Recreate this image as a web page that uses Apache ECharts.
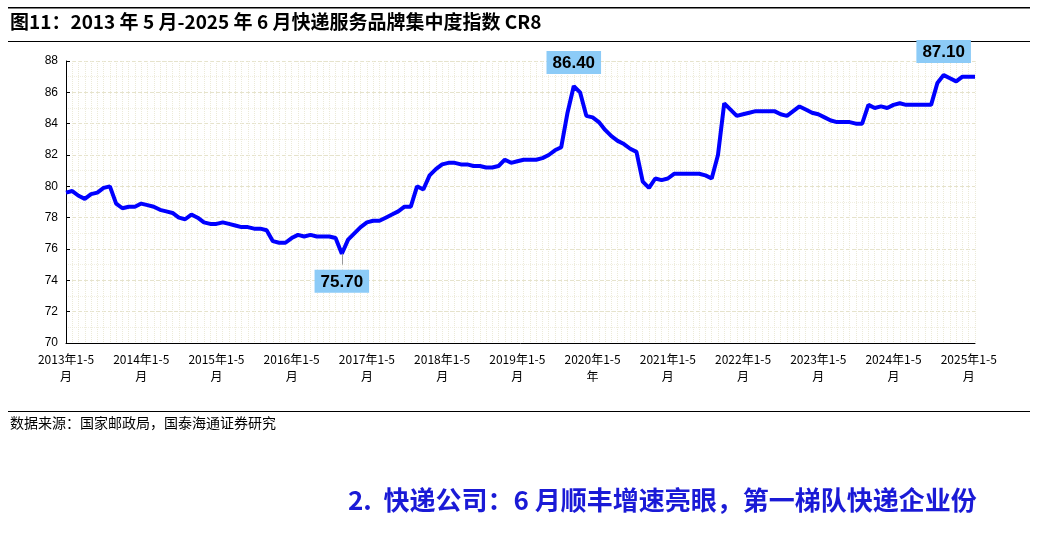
<!DOCTYPE html>
<html lang="zh">
<head>
  <meta charset="UTF-8">
  <title>CR8</title>
  <script src="https://cdn.jsdelivr.net/npm/echarts@6.0.0/dist/echarts.min.js"></script>
  <style>
    body { margin: 0; background: #fff; }
    #chart { width: 1037px; height: 534px; }
  </style>
</head>
<body>
  <div id="chart"></div>
  <script>
    // 月度 CR8 数据（2013-05 至 2025-06）
    var startYear = 2013, startMonth = 5;
    var values = [
      79.6, 79.7, 79.4, 79.2, 79.5, 79.6, 79.9, 80.0, 78.9, 78.6, 78.7, 78.7,
      78.9, 78.8, 78.7, 78.5, 78.4, 78.3, 78.0, 77.9, 78.2, 78.0, 77.7, 77.6,
      77.6, 77.7, 77.6, 77.5, 77.4, 77.4, 77.3, 77.3, 77.2, 76.5, 76.4, 76.4,
      76.7, 76.9, 76.8, 76.9, 76.8, 76.8, 76.8, 76.7, 75.7, 76.6, 77.0, 77.4,
      77.7, 77.8, 77.8, 78.0, 78.2, 78.4, 78.7, 78.7, 80.0, 79.8, 80.7, 81.1,
      81.4, 81.5, 81.5, 81.4, 81.4, 81.3, 81.3, 81.2, 81.2, 81.3, 81.7, 81.5,
      81.6, 81.7, 81.7, 81.7, 81.8, 82.0, 82.3, 82.5, 84.7, 86.4, 86.0, 84.5,
      84.4, 84.1, 83.6, 83.2, 82.9, 82.7, 82.4, 82.2, 80.3, 79.9, 80.5, 80.4,
      80.5, 80.8, 80.8, 80.8, 80.8, 80.8, 80.7, 80.5, 82.0, 85.3, 84.9, 84.5,
      84.6, 84.7, 84.8, 84.8, 84.8, 84.8, 84.6, 84.5, 84.8, 85.1, 84.9, 84.7,
      84.6, 84.4, 84.2, 84.1, 84.1, 84.1, 84.0, 84.0, 85.2, 85.0, 85.1, 85.0,
      85.2, 85.3, 85.2, 85.2, 85.2, 85.2, 85.2, 86.6, 87.1, 86.9, 86.7, 87.0,
      87.0, 87.0
    ];
    var categories = values.map(function (v, i) {
      var m = startMonth - 1 + i;
      return (startYear + Math.floor(m / 12)) + '年1-' + (m % 12 + 1) + '月';
    });
    var highlights = [
      { idx: 44, text: '75.70', pos: 'bottom' },
      { idx: 81, text: '86.40', pos: 'top' },
      { idx: 140, text: '87.10', pos: 'top' }
    ];

    var chart = echarts.init(document.getElementById('chart'));
    chart.setOption({
      animation: false,
      grid: { left: 66, right: 62, top: 61, bottom: 191 },
      xAxis: {
        type: 'category', data: categories, boundaryGap: false,
        axisLine: { lineStyle: { color: '#000' } },
        axisTick: { show: false },
        axisLabel: {
          interval: 11, color: '#000', fontSize: 12, lineHeight: 17,
          fontFamily: 'Noto Sans CJK SC',
          formatter: function (v) {
            var p = v.split('1-');
            var tail = p[0] === '2020年' ? '年' : '月';
            return p[0] + '1-' + p[1].replace('月', '') + '\n' + tail;
          }
        },
        splitLine: { show: true, interval: 0, lineStyle: { color: '#ecead8', type: 'dotted' } }
      },
      yAxis: {
        type: 'value', min: 70, max: 88, interval: 2,
        axisLine: { show: true, lineStyle: { color: '#000' } },
        axisTick: { show: true, inside: true, length: 4 },
        axisLabel: { color: '#000', fontSize: 12, fontFamily: 'Arial' },
        splitLine: { lineStyle: { color: '#e6e3cc', type: 'dashed' } },
        minorTick: { show: false, splitNumber: 2 },
        minorSplitLine: { show: true, lineStyle: { color: '#f1efe2', type: 'dotted' } }
      },
      series: [{
        type: 'line', data: values, showSymbol: false,
        lineStyle: { color: '#0000ff', width: 4 },
        markLine: {
          symbol: 'none', silent: true, label: { show: false },
          lineStyle: { color: '#999', type: 'solid', width: 1 },
          data: [[{ coord: [44, 75.7] }, { coord: [44, 75.0] }]]
        },
        markPoint: {
          symbol: 'circle', symbolSize: 0,
          data: highlights.map(function (h) {
            return {
              coord: [h.idx, values[h.idx]],
              label: {
                show: true, formatter: h.text, position: h.pos,
                distance: h.pos === 'bottom' ? 16 : 12,
                backgroundColor: '#8ccbf7', padding: [4, 6, 2, 6],
                color: '#000', fontSize: 17, fontWeight: 'bold', fontFamily: 'Arial'
              }
            };
          })
        }
      }],
      graphic: [
        { type: 'rect', shape: { x: 8, y: 7, width: 1022, height: 1.5 }, style: { fill: '#000' } },
        { type: 'text', left: 10, top: 12, style: { text: '图11：2013 年 5 月-2025 年 6 月快递服务品牌集中度指数 CR8', fontSize: 19, fontWeight: 'bold', fontFamily: 'Noto Sans CJK SC', fill: '#000' } },
        { type: 'rect', shape: { x: 8, y: 41, width: 1022, height: 1 }, style: { fill: '#000' } },
        { type: 'rect', shape: { x: 8, y: 411, width: 1022, height: 1 }, style: { fill: '#000' } },
        { type: 'text', left: 10, top: 416, style: { text: '数据来源：国家邮政局，国泰海通证券研究', fontSize: 14, fontFamily: 'Noto Sans CJK SC', fill: '#000' } },
        { type: 'text', left: 348, top: 487, style: { text: '2.  快递公司：6 月顺丰增速亮眼，第一梯队快递企业份', fontSize: 26, fontWeight: 'bold', fontFamily: 'Noto Sans CJK SC', fill: '#1a1ad6' } }
      ]
    });
  </script>
</body>
</html>
